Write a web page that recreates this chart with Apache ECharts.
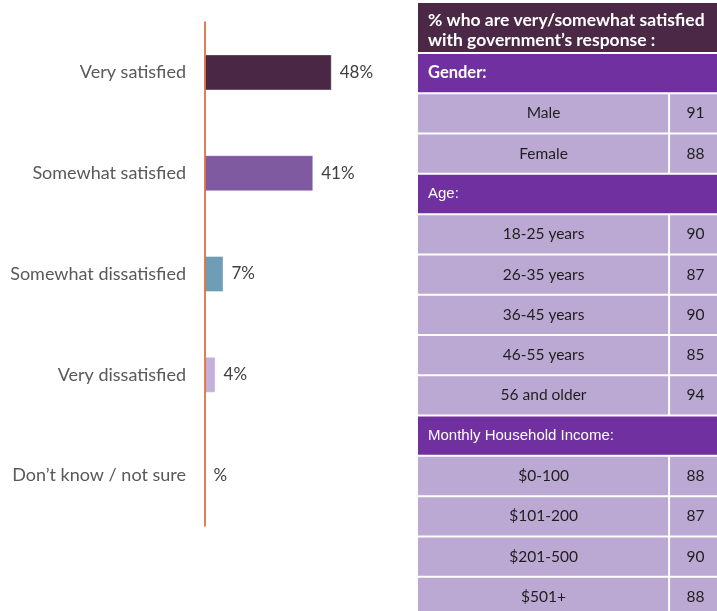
<!DOCTYPE html>
<html>
<head>
<meta charset="utf-8">
<title>Satisfaction with government response</title>
<script src="https://cdn.jsdelivr.net/npm/echarts@6/dist/echarts.min.js"></script>
<style>
  html, body { margin: 0; padding: 0; background: #ffffff; overflow: hidden; }
  #chart { width: 730px; height: 625px; }
</style>
</head>
<body>
<div id="chart"></div>
<script>
// Overall satisfaction breakdown (percent of respondents)
const categories = ['Very satisfied', 'Somewhat satisfied', 'Somewhat dissatisfied', 'Very dissatisfied', 'Don\u2019t know / not sure'];
const shares = [48, 41, 7, 4, 0];
const barColors = ['#4a2845', '#7f5aa1', '#6e9eb6', '#c4b1d9'];

// Share very/somewhat satisfied by respondent group
const tableTitle = '% who are very/somewhat satisfied\nwith government\u2019s response :';
const genderHeading = 'Gender:';
const genderRows = ['Male', 'Female'];
const genderValues = [91, 88];
const ageHeading = 'Age:';
const ageRows = ['18-25 years', '26-35 years', '36-45 years', '46-55 years', '56 and older'];
const ageValues = [90, 87, 90, 85, 94];
const incomeHeading = 'Monthly Household Income:';
const incomeRows = ['$0-100', '$101-200', '$201-500', '$501+'];
const incomeValues = [88, 87, 90, 88];

// Flatten groups into table rows (section heading followed by its rows)
const tableRows = [];
function addSection(heading, bold, labels, values) {
  tableRows.push({ heading: true, bold: bold, label: heading });
  labels.forEach((l, i) => tableRows.push({ heading: false, label: l, value: values[i] }));
}
addSection(genderHeading, true, genderRows, genderValues);
addSection(ageHeading, false, ageRows, ageValues);
addSection(incomeHeading, false, incomeRows, incomeValues);

const labelFont = 'Lato, "Open Sans", sans-serif';
const splitFraction = 0.826; // label column / value column boundary

const chart = echarts.init(document.getElementById('chart'), null, { renderer: 'canvas' });

chart.setOption({
  animation: false,
  backgroundColor: '#ffffff',
  grid: [
    { left: 205, top: 22, width: 264, height: 504 },
    { left: 418, top: 53, width: 304, height: 564 }
  ],
  xAxis: [
    { gridIndex: 0, type: 'value', min: 0, max: 100, show: false },
    { gridIndex: 1, type: 'value', min: 0, max: 1, show: false }
  ],
  yAxis: [
    {
      gridIndex: 0,
      type: 'category',
      inverse: true,
      data: categories,
      z: 5,
      axisLine: { show: true, lineStyle: { color: '#d9531e', width: 1.5 } },
      axisTick: { show: false },
      axisLabel: {
        margin: 19,
        color: '#595959',
        fontFamily: labelFont,
        fontSize: 18
      },
      splitLine: { show: false }
    },
    {
      gridIndex: 1,
      type: 'category',
      inverse: true,
      data: tableRows.map(r => r.label),
      show: false
    }
  ],
  graphic: [
    {
      type: 'rect',
      shape: { x: 418, y: 3, width: 304, height: 49 },
      style: { fill: '#4b2946' }
    },
    {
      type: 'text',
      x: 428,
      y: 30,
      style: {
        text: tableTitle,
        fill: '#ffffff',
        font: 'bold 17.5px ' + labelFont,
        lineHeight: 20,
        verticalAlign: 'middle'
      }
    }
  ],
  series: [
    {
      type: 'bar',
      xAxisIndex: 0,
      yAxisIndex: 0,
      barWidth: 36,
      data: shares.map((v, i) => ({
        value: v,
        itemStyle: { color: barColors[i % barColors.length] }
      })),
      itemStyle: { borderColor: 'rgba(255,255,255,0.35)', borderWidth: 1 },
      label: {
        show: true,
        position: 'right',
        distance: 8,
        color: '#404040',
        fontFamily: labelFont,
        fontSize: 17,
        formatter: p => (p.value ? p.value + '%' : '%')
      }
    },
    {
      type: 'custom',
      xAxisIndex: 1,
      yAxisIndex: 1,
      clip: false,
      data: tableRows.map((r, i) => [0, i]),
      encode: { x: 0, y: 1 },
      renderItem: function (params, api) {
        const row = tableRows[params.dataIndex];
        const c = api.coord([0, params.dataIndex]);
        const band = api.size([0, 1])[1];
        const width = api.size([1, 0])[0];
        const top = c[1] - band / 2 + 1;
        const h = band - 2;
        if (row.heading) {
          return {
            type: 'group',
            children: [
              { type: 'rect', shape: { x: c[0], y: top, width: width, height: h }, style: { fill: '#7030a0' } },
              {
                type: 'text', x: c[0] + 10, y: c[1],
                style: {
                  text: row.label, fill: '#ffffff',
                  font: row.bold ? 'bold 16.5px ' + labelFont : '15px "Liberation Sans", Arial, sans-serif',
                  verticalAlign: 'middle'
                }
              }
            ]
          };
        }
        const split = api.coord([splitFraction, params.dataIndex])[0];
        const right = c[0] + width;
        return {
          type: 'group',
          children: [
            { type: 'rect', shape: { x: c[0], y: top, width: split - c[0] - 1, height: h }, style: { fill: '#bba9d3' } },
            { type: 'rect', shape: { x: split + 1, y: top, width: right - split - 1, height: h }, style: { fill: '#bba9d3' } },
            {
              type: 'text', x: (c[0] + split) / 2, y: c[1],
              style: { text: row.label, fill: '#1e1e1e', font: '15.5px ' + labelFont, align: 'center', verticalAlign: 'middle' }
            },
            {
              type: 'text', x: (split + right) / 2, y: c[1],
              style: { text: String(row.value), fill: '#1e1e1e', font: '15.5px ' + labelFont, align: 'center', verticalAlign: 'middle' }
            }
          ]
        };
      }
    }
  ]
});
</script>
</body>
</html>
